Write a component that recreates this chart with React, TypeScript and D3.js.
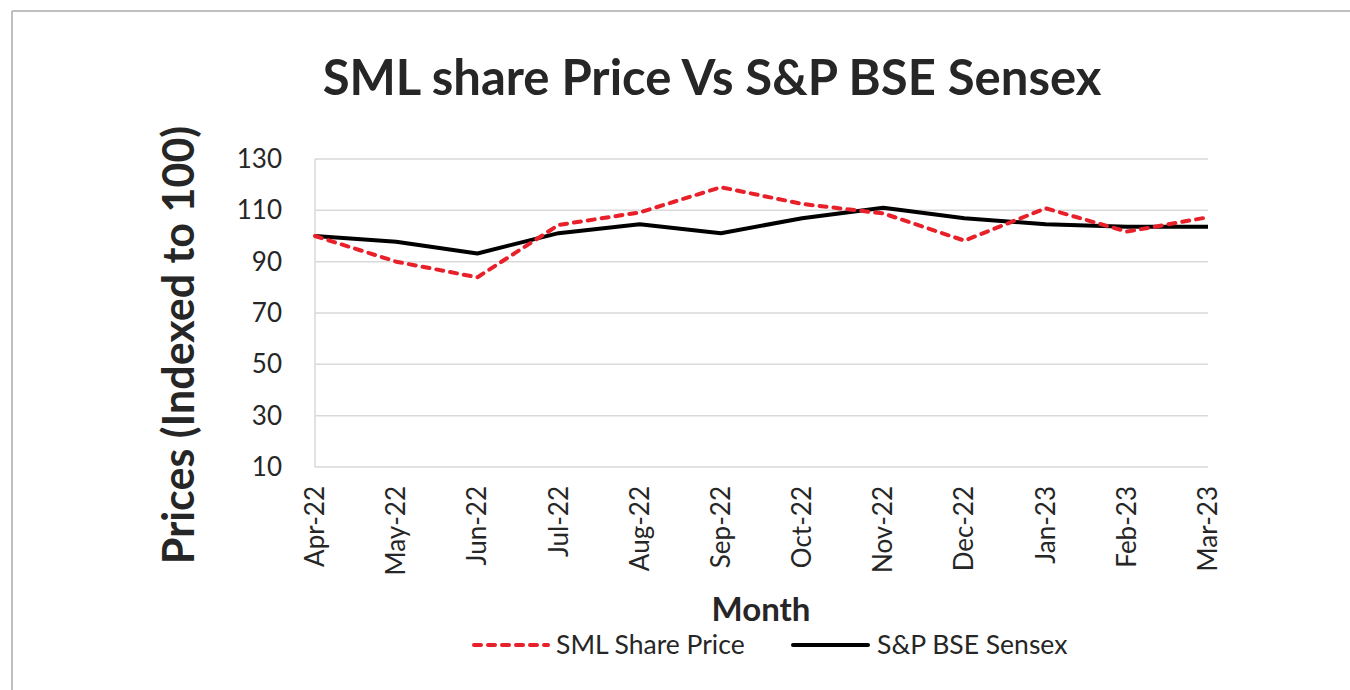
import React from "react";
import * as d3 from "d3";

const months = ["Apr-22", "May-22", "Jun-22", "Jul-22", "Aug-22", "Sep-22", "Oct-22", "Nov-22", "Dec-22", "Jan-23", "Feb-23", "Mar-23"];
const smlPrice = [100, 90, 83.9, 104.3, 109.2, 119, 112.5, 108.8, 98.2, 110.8, 101.7, 107.3];
const sensex = [100, 97.8, 93.2, 101.1, 104.6, 101.1, 106.9, 111, 106.9, 104.6, 103.6, 103.6];
const yTicks = [10, 30, 50, 70, 90, 110, 130];

const width = 1350;
const height = 690;
const font = "Lato, 'Open Sans', sans-serif";
const red = "#e8202a";

const App = () => {
  const x = d3.scalePoint<string>().domain(months).range([315, 1208]);
  const y = d3.scaleLinear().domain([10, 130]).range([467, 159]);

  const line = d3
    .line<number>()
    .x((d, i) => x(months[i]) as number)
    .y((d) => y(d));

  return (
    <svg width={width} height={height} style={{ position: "absolute", left: 0, top: 0, background: "#fff" }}>
      {/* chart frame */}
      <line x1={12} y1={11} x2={width} y2={11} stroke="#bfbfbf" strokeWidth={2} />
      <line x1={12} y1={11} x2={12} y2={height} stroke="#bfbfbf" strokeWidth={2} />

      <text x={712} y={95} textAnchor="middle" fontFamily={font} fontWeight="bold" fontSize={49} fill="#262626">
        SML share Price Vs S&amp;P BSE Sensex
      </text>

      {/* grid */}
      {yTicks.map((t) => (
        <g key={t}>
          <line x1={315} x2={1208} y1={y(t)} y2={y(t)} stroke="#d9d9d9" strokeWidth={1.5} />
          <text x={282} y={y(t)} dy="0.35em" textAnchor="end" fontFamily={font} fontSize={26} fill="#262626">
            {t}
          </text>
        </g>
      ))}
      <line x1={315} x2={315} y1={159} y2={467} stroke="#d9d9d9" strokeWidth={1.5} />

      {months.map((m) => (
        <text
          key={m}
          transform={`translate(${(x(m) as number) + 9},486) rotate(-90)`}
          textAnchor="end"
          fontFamily={font}
          fontSize={26}
          fill="#262626"
        >
          {m}
        </text>
      ))}

      <text
        transform="translate(194,345) rotate(-90)"
        textAnchor="middle"
        fontFamily={font}
        fontWeight="bold"
        fontSize={43}
        fill="#262626"
      >
        Prices (Indexed to 100)
      </text>

      <text x={761} y={621} textAnchor="middle" fontFamily={font} fontWeight="bold" fontSize={33} fill="#262626">
        Month
      </text>

      <path d={line(sensex) || ""} fill="none" stroke="#000" strokeWidth={4} strokeLinejoin="round" />
      <path
        d={line(smlPrice) || ""}
        fill="none"
        stroke={red}
        strokeWidth={4}
        strokeDasharray="7,7"
        strokeLinecap="round"
        strokeLinejoin="round"
      />

      {/* legend */}
      <line x1={474} x2={548} y1={645} y2={645} stroke={red} strokeWidth={4} strokeDasharray="7,7" strokeLinecap="round" />
      <text x={556} y={645} dy="0.35em" fontFamily={font} fontSize={26.5} fill="#262626">
        SML Share Price
      </text>
      <line x1={793} x2={868} y1={645} y2={645} stroke="#000" strokeWidth={4} strokeLinecap="round" />
      <text x={877} y={645} dy="0.35em" fontFamily={font} fontSize={26.5} fill="#262626">
        S&amp;P BSE Sensex
      </text>
    </svg>
  );
};

export default App;
